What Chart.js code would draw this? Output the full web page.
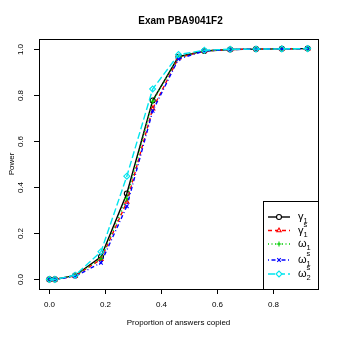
<!DOCTYPE html>
<html><head><meta charset="utf-8">
<script src="https://cdn.jsdelivr.net/npm/chart.js@4.4.1/dist/chart.umd.min.js"></script>
<style>html,body{margin:0;padding:0;background:#fff;}#c{display:block;}</style>
</head><body>
<canvas id="c" width="339" height="339"></canvas>
<script>
const proportions = [0, 0.02, 0.0925, 0.185, 0.2775, 0.37, 0.4625, 0.555, 0.6475, 0.74, 0.8325, 0.925];
const gamma1   = [0, 0, 0.017, 0.098, 0.372, 0.775, 0.965, 0.990, 0.996, 0.998, 0.999, 1.0];
const gamma1s  = [0, 0, 0.015, 0.087, 0.335, 0.740, 0.960, 0.990, 0.996, 0.998, 0.999, 1.0];
const omega1   = [0, 0, 0.016, 0.090, 0.350, 0.772, 0.962, 0.990, 0.996, 0.998, 0.999, 1.0];
const omega1s  = [0, 0, 0.013, 0.072, 0.317, 0.730, 0.955, 0.990, 0.996, 0.998, 0.999, 1.0];
const omega2s  = [0, 0, 0.018, 0.120, 0.447, 0.825, 0.974, 0.993, 0.997, 0.998, 0.999, 1.0];
const xTicks = [0, 0.2, 0.4, 0.6, 0.8];
const yTicks = [0, 0.2, 0.4, 0.6, 0.8, 1.0];
const xTickLabels = ["0.0", "0.2", "0.4", "0.6", "0.8"];
const yTickLabels = ["0.0", "0.2", "0.4", "0.6", "0.8", "1.0"];
const titleText = "Exam PBA9041F2";
const xTitle = "Proportion of answers copied";
const yTitle = "Power";
// legend: base, subscript, superscript
const legendBase = ["\u03b3", "\u03b3", "\u03c9", "\u03c9", "\u03c9"];
const legendSub = ["1", "1", "1", "1", "2"];
const legendSup = ["", "s", "", "s", "s"];

const FONT = '"Liberation Sans", Arial, sans-serif';
const pts = arr => proportions.map((x, i) => ({x: x, y: arr[i]}));

const styles = [
  {color: '#000000', dash: [], point: 'circle', w: 1.4},
  {color: '#ff0000', dash: [4, 3], point: 'triangle', w: 1.4},
  {color: '#00cd00', dash: [1, 2.5], point: 'cross', w: 1.4},
  {color: '#0000ff', dash: [1, 2.5, 4, 2.5], point: 'crossRot', w: 1.4},
  {color: '#00e5ee', dash: [7, 3], point: 'rectRot', w: 1.4}
];
const series = [gamma1, gamma1s, omega1, omega1s, omega2s];
const radiusFor = p => p === 'rectRot' ? 3 : 2.5;

const datasets = series.map((s, i) => ({
  data: pts(s),
  borderColor: styles[i].color,
  backgroundColor: 'rgba(0,0,0,0)',
  borderWidth: styles[i].w,
  borderDash: styles[i].dash,
  pointStyle: styles[i].point,
  pointRadius: radiusFor(styles[i].point),
  pointBorderColor: styles[i].color,
  pointBackgroundColor: 'rgba(0,0,0,0)',
  pointBorderWidth: 1.1,
  tension: 0,
  showLine: true,
  order: 5 - i
}));

const decor = {
  id: 'decor',
  afterDraw(chart) {
    const ctx = chart.ctx;
    const a = chart.chartArea;
    const xs = chart.scales.x, ys = chart.scales.y;
    ctx.save();
    ctx.strokeStyle = '#000';
    ctx.lineWidth = 1;
    ctx.setLineDash([]);
    ctx.strokeRect(Math.round(a.left) + 0.5, Math.round(a.top) + 0.5, Math.round(a.right - a.left), Math.round(a.bottom - a.top));
    ctx.fillStyle = '#000';
    ctx.font = '8px ' + FONT;
    ctx.textAlign = 'center'; ctx.textBaseline = 'middle';
    xTicks.forEach((v, i) => {
      const px = Math.round(xs.getPixelForValue(v)) + 0.5;
      ctx.beginPath(); ctx.moveTo(px, a.bottom); ctx.lineTo(px, a.bottom + 5); ctx.stroke();
      ctx.fillText(xTickLabels[i], px, a.bottom + 16);
    });
    yTicks.forEach((v, i) => {
      const py = Math.round(ys.getPixelForValue(v)) + 0.5;
      ctx.beginPath(); ctx.moveTo(a.left, py); ctx.lineTo(a.left - 5, py); ctx.stroke();
      ctx.save(); ctx.translate(a.left - 18, py); ctx.rotate(-Math.PI / 2);
      ctx.fillText(yTickLabels[i], 0, 0); ctx.restore();
    });
    ctx.fillText(xTitle, (a.left + a.right) / 2, 323);
    ctx.save(); ctx.translate(12, (a.top + a.bottom) / 2); ctx.rotate(-Math.PI / 2);
    ctx.fillText(yTitle, 0, 0); ctx.restore();
    ctx.font = 'bold 10px ' + FONT;
    ctx.fillText(titleText, (a.left + a.right) / 2 + 2, 21);
    // legend
    const lx0 = 263, ly0 = 201, lx1 = Math.round(a.right), ly1 = Math.round(a.bottom);
    ctx.fillStyle = '#fff';
    ctx.fillRect(lx0, ly0, lx1 - lx0, ly1 - ly0);
    ctx.strokeStyle = '#000';
    ctx.strokeRect(lx0 + 0.5, ly0 + 0.5, lx1 - lx0, ly1 - ly0);
    const rowY = [217, 230.5, 244, 260, 274];
    rowY.forEach((y, i) => {
      const st = styles[i];
      ctx.strokeStyle = st.color;
      ctx.lineWidth = st.w;
      ctx.setLineDash(st.dash);
      ctx.beginPath(); ctx.moveTo(268, y); ctx.lineTo(290, y); ctx.stroke();
      ctx.setLineDash([]);
      ctx.fillStyle = '#fff';
      ctx.lineWidth = 1.1;
      Chart.helpers.drawPoint(ctx, {pointStyle: st.point, radius: radiusFor(st.point), rotation: 0, borderWidth: 1.1}, 279, y);
      ctx.fillStyle = '#000';
      ctx.textAlign = 'left'; ctx.textBaseline = 'alphabetic';
      ctx.font = '11px ' + FONT;
      ctx.fillText(legendBase[i], 298, y + 3);
      const bw = ctx.measureText(legendBase[i]).width;
      ctx.font = '7.5px ' + FONT;
      ctx.fillText(legendSub[i], 298 + bw, y + 6);
      if (legendSup[i]) ctx.fillText(legendSup[i], 298 + bw, y - 4);
    });
    ctx.restore();
  }
};

new Chart(document.getElementById('c'), {
  type: 'scatter',
  data: {datasets: datasets},
  options: {
    responsive: false,
    animation: false,
    devicePixelRatio: 1,
    layout: {padding: {left: 39, right: 21, top: 39, bottom: 50}},
    plugins: {legend: {display: false}, tooltip: {enabled: false}, title: {display: false}},
    scales: {
      x: {type: 'linear', min: -0.037, max: 0.962, display: false},
      y: {type: 'linear', min: -0.0417, max: 1.0417, display: false}
    }
  },
  plugins: [decor]
});
</script>
</body></html>
